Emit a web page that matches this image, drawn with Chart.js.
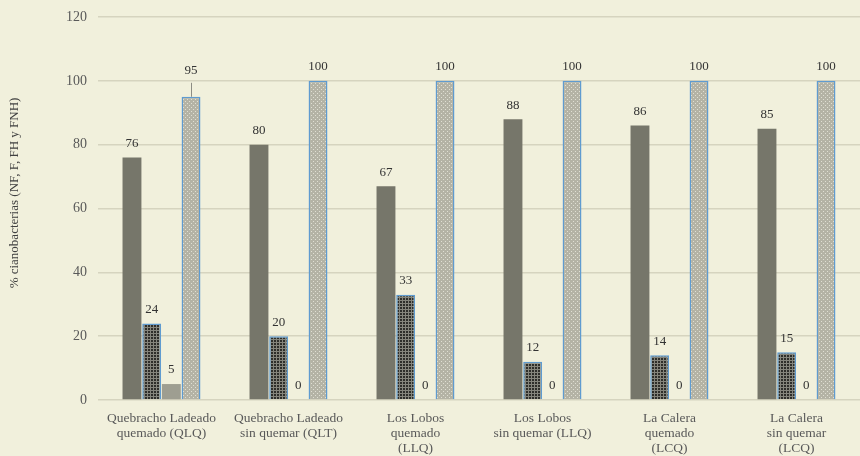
<!DOCTYPE html>
<html>
<head>
<meta charset="utf-8">
<script src="https://cdn.jsdelivr.net/npm/chart.js@4/dist/chart.umd.min.js"></script>
<style>
  html, body { margin: 0; padding: 0; background: #f1f0dc; }
  canvas { display: block; }
</style>
</head>
<body>
<canvas id="chart" width="860" height="456"></canvas>
<script>
// sites
const categories = [
    ['Quebracho Ladeado', 'quemado (QLQ)'],
    ['Quebracho Ladeado', 'sin quemar (QLT)'],
    ['Los Lobos', 'quemado', '(LLQ)'],
    ['Los Lobos', 'sin quemar (LLQ)'],
    ['La Calera', 'quemado', '(LCQ)'],
    ['La Calera', 'sin quemar', '(LCQ)']
];
// % per group (NF, F, FH, FNH)
const seriesNF  = [76, 80, 67, 88, 86, 85];
const seriesF   = [24, 20, 33, 12, 14, 15];
const seriesFH  = [5, 0, 0, 0, 0, 0];
const seriesFNH = [95, 100, 100, 100, 100, 100];
const yTicks = [0, 20, 40, 60, 80, 100, 120];
const yTitle = '% cianobacterias (NF, F, FH y FNH)';

const serif = '"Liberation Serif", "Times New Roman", serif';

function makePattern(base, dot, size, cells) {
    const c = document.createElement('canvas');
    c.width = size; c.height = size;
    const p = c.getContext('2d');
    p.fillStyle = base;
    p.fillRect(0, 0, size, size);
    p.fillStyle = dot;
    cells.forEach(([x, y]) => p.fillRect(x, y, 1, 1));
    return p.createPattern(c, 'repeat');
}

const ctx = document.getElementById('chart').getContext('2d');

// dark checkered fill and light dotted fill
const darkGrid = makePattern('#2e2e2a', '#85857c', 3, [[0, 0], [0, 1], [0, 2], [1, 0], [2, 0]]);
const lightDots = makePattern('#b4b3a5', '#e0dfd3', 4, [[1, 1], [3, 3]]);

const bgPlugin = {
    id: 'bg',
    beforeDraw(chart) {
        const c = chart.ctx;
        c.save();
        c.fillStyle = '#f1f0dc';
        c.fillRect(0, 0, chart.width, chart.height);
        c.restore();
    }
};

// value labels over each bar, one with a leader line
const labelPlugin = {
    id: 'valueLabels',
    afterDatasetsDraw(chart) {
        const c = chart.ctx;
        c.save();
        c.font = '13px ' + serif;
        c.fillStyle = '#333333';
        c.textAlign = 'center';
        c.textBaseline = 'middle';
        chart.data.datasets.forEach((ds, di) => {
            chart.getDatasetMeta(di).data.forEach((bar, i) => {
                let ly = bar.y - 14;
                if (di === 3 && ds.data[i] < 100) {
                    ly = bar.y - 26;
                    c.strokeStyle = '#8c8c84';
                    c.lineWidth = 1;
                    c.beginPath();
                    c.moveTo(Math.round(bar.x) + 0.5, ly + 12);
                    c.lineTo(Math.round(bar.x) + 0.5, bar.y);
                    c.stroke();
                }
                c.fillText(String(ds.data[i]), bar.x, ly);
            });
        });
        // y axis title
        c.translate(15, 193);
        c.rotate(-Math.PI / 2);
        c.fillStyle = '#404040';
        c.font = '13px ' + serif;
        c.fillText(yTitle, 0, 0);
        c.restore();
    }
};

new Chart(ctx, {
    type: 'bar',
    data: {
        labels: categories,
        datasets: [
            { label: 'NF', data: seriesNF, backgroundColor: '#76766a', borderWidth: 0 },
            { label: 'F', data: seriesF, backgroundColor: darkGrid, borderColor: '#5f9bd0', borderWidth: 1.5 },
            { label: 'FH', data: seriesFH, backgroundColor: '#9e9e91', borderWidth: 0 },
            { label: 'FNH', data: seriesFNH, backgroundColor: lightDots, borderColor: '#5f9bd0', borderWidth: 1.5 }
        ]
    },
    options: {
        responsive: false,
        animation: false,
        categoryPercentage: 0.62,
        barPercentage: 0.96,
        layout: { padding: { top: 17, right: 0, left: 0, bottom: 0 } },
        plugins: {
            legend: { display: false },
            tooltip: { enabled: false }
        },
        scales: {
            x: {
                grid: { display: false },
                border: { display: false },
                ticks: {
                    color: '#595959',
                    font: { family: serif, size: 13.5, lineHeight: 1.1 },
                    padding: 3,
                    maxRotation: 0,
                    autoSkip: false
                },
                afterFit(scale) { scale.height = 56; }
            },
            y: {
                min: 0,
                max: 120,
                afterBuildTicks(scale) { scale.ticks = yTicks.map(v => ({ value: v })); },
                grid: { color: '#d6d4bf', lineWidth: 1.5, drawTicks: false },
                border: { display: false },
                ticks: {
                    color: '#595959',
                    font: { family: serif, size: 14 },
                    padding: 11
                },
                afterFit(scale) {
                    scale.width = 98;
                    scale.paddingTop = 0;
                    scale.paddingBottom = 0;
                }
            }
        }
    },
    plugins: [bgPlugin, labelPlugin]
});
</script>
</body>
</html>
